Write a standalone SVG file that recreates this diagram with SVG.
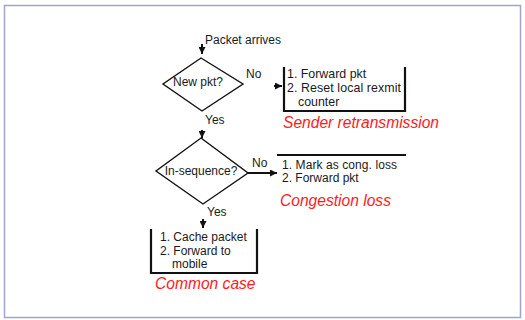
<svg xmlns="http://www.w3.org/2000/svg" width="525" height="320" viewBox="0 0 525 320">
<style>
.t{font-family:"Liberation Sans",Arial,sans-serif;font-size:12px;fill:#1a1a1a}
.r{font-family:"Liberation Sans",Arial,sans-serif;font-size:15.6px;font-style:italic;fill:#ff1a1a}
.d{fill:none;stroke:#111;stroke-width:1.4}
.b{fill:none;stroke:#111;stroke-width:2.2}
.c{fill:none;stroke:#111;stroke-width:2}
</style>
<defs>
<marker id="ah" markerUnits="userSpaceOnUse" markerWidth="8" markerHeight="7" refX="7" refY="3.5" orient="auto">
<path d="M0,0 L7,3.5 L0,7 z" fill="#111"/>
</marker>
</defs>
<rect x="4.5" y="5.5" width="516" height="312" fill="#fff" stroke="#a3a3cc" stroke-width="1.5"/>
<g id="start">
<text class="t" x="205" y="44">Packet arrives</text>
</g>
<g id="newpkt">
<polygon class="d" points="201,58 243,84 202,111 163,84"/>
<text class="t" x="198" y="86" text-anchor="middle">New pkt?</text>
</g>
<g id="sender">
<path class="b" d="M284,67 V111 H405 V67"/>
<text class="t" x="287" y="78" style="font-size:12.4px">1. Forward pkt</text>
<text class="t" x="287" y="92" style="font-size:12.4px" textLength="114">2. Reset local rexmit</text>
<text class="t" x="298" y="106" style="font-size:12.4px">counter</text>
<text class="r" x="283" y="128">Sender retransmission</text>
</g>
<g id="inseq">
<polygon class="d" points="201,138 248,173 203,204 156,171"/>
<text class="t" x="201" y="175" text-anchor="middle">In-sequence?</text>
</g>
<g id="congestion">
<path class="b" d="M277,155 H406"/>
<text class="t" x="282" y="168.5" textLength="115">1. Mark as cong. loss</text>
<text class="t" x="282" y="182">2. Forward pkt</text>
<text class="r" x="280" y="206">Congestion loss</text>
</g>
<g id="common">
<path class="b" d="M151,229 V273 H257 V229"/>
<text class="t" x="160" y="241">1. Cache packet</text>
<text class="t" x="160" y="255">2. Forward to</text>
<text class="t" x="172" y="268">mobile</text>
<text class="r" x="155" y="289">Common case</text>
</g>
<g id="connectors">
<path class="c" d="M202,44 V54" marker-end="url(#ah)"/>
<text class="t" x="246" y="78">No</text>
<path class="c" d="M274,86 H282" marker-end="url(#ah)"/>
<text class="t" x="205" y="124">Yes</text>
<path class="c" d="M202,130 V138" marker-end="url(#ah)"/>
<text class="t" x="252" y="167">No</text>
<path class="c" d="M248,173 H277" marker-end="url(#ah)"/>
<text class="t" x="207" y="216">Yes</text>
<path class="c" d="M203,219 V228" marker-end="url(#ah)"/>
</g>
</svg>
